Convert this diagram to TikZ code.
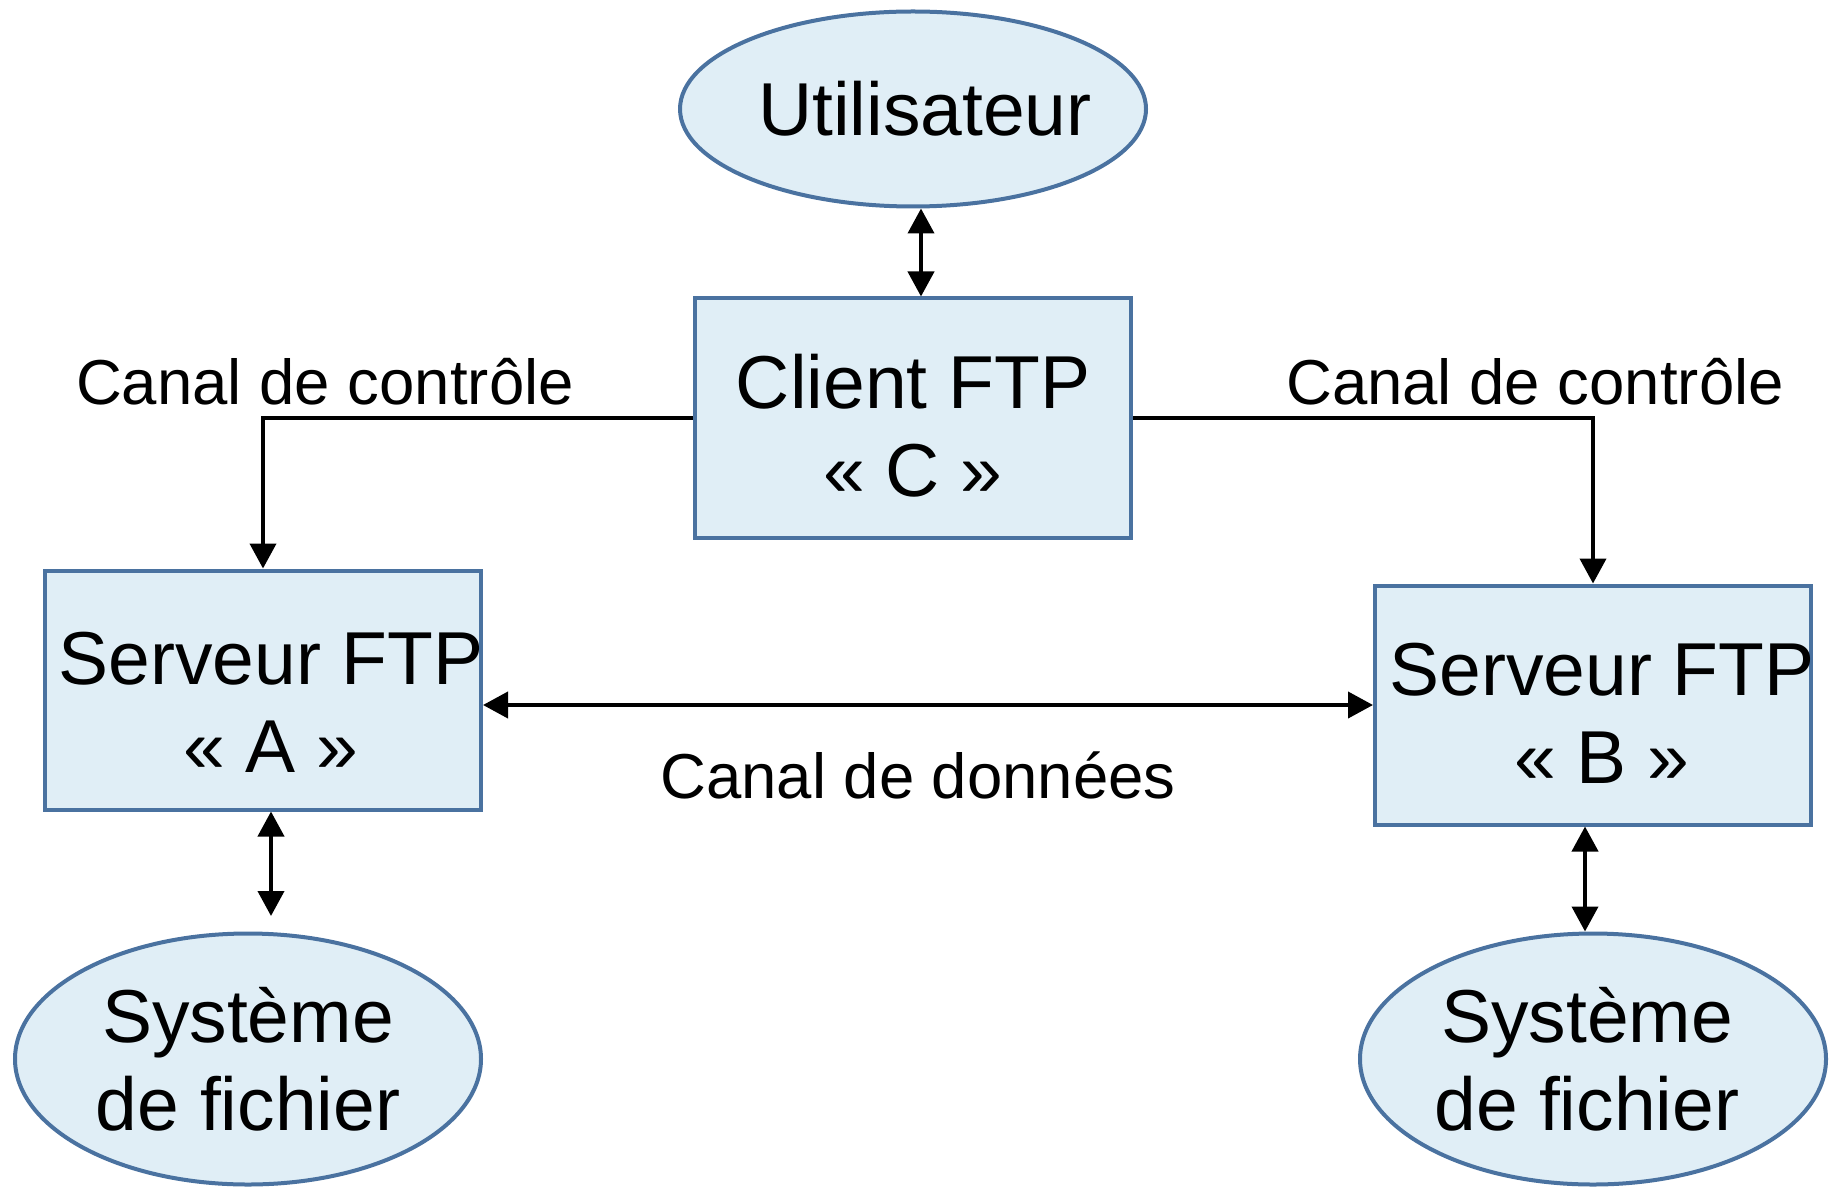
\documentclass[tikz,border=0pt]{standalone}
\usepackage{fontspec}
\setmainfont{Liberation Sans}
\usetikzlibrary{shapes.geometric,arrows.meta}

\begin{document}
\begin{tikzpicture}[x=0.5pt,y=-0.5pt,line width=2pt,
    bloc/.style={draw=boxline,fill=boxfill,inner sep=0pt},
    boite/.style={bloc,rectangle,minimum width=218pt,minimum height=119.5pt},
    bulle/.style={bloc,ellipse,minimum width=233pt},
    txt/.style={inner sep=0pt,align=center,font=\fontsize{37.5}{44}\selectfont},
    etiq/.style={inner sep=0pt,font=\fontsize{31.75}{38}\selectfont},
    fleche/.style={-{Triangle[width=13pt,length=12.5pt]}},
    dfleche/.style={{Triangle[width=13pt,length=12.5pt]}-{Triangle[width=13pt,length=12.5pt]}}]
    \definecolor{boxfill}{HTML}{E0EEF6}
    \definecolor{boxline}{HTML}{4A72A0}
    \useasboundingbox (0,0) rectangle (1834,1187);
    \node[bulle,minimum height=97.5pt,
      label={[txt,xshift=6pt]center:Utilisateur}] (util) at (913,109) {};
    \node[boite,label={[txt,yshift=-4pt]center:{Client FTP\\« C »}}] (client) at (913,418) {};
    \node[boite,label={[txt,xshift=4pt,yshift=-6pt]center:{Serveur FTP\\« A »}}] (srvA) at (263,690) {};
    \node[boite,label={[txt,xshift=4.5pt,yshift=-4pt]center:{Serveur FTP\\« B »}}] (srvB) at (1593,705) {};
    \foreach \n/\x/\d in {fsA/248/0pt,fsB/1593/-3pt}
      \node[bulle,minimum height=125.5pt,
        label={[txt,xshift=\d]center:{Système\\de fichier}}] (\n) at (\x,1059) {};
    \node[etiq] (ctlA) at (325,382) {Canal de contrôle};
    \node[etiq] (ctlB) at (1535,382) {Canal de contrôle};
    \node[etiq] (data) at (918,775) {Canal de données};
    \coordinate (fsAtop) at (271,916);
    \draw[dfleche] ([xshift=4pt]util.south) -- ([xshift=4pt]client.north);
    \draw[fleche] (client.west) -| (srvA.north);
    \draw[fleche] (client.east) -| (srvB.north);
    \draw[dfleche] (srvA.east |- srvB.west) -- (srvB.west);
    \draw[dfleche] (srvA.south -| fsAtop) -- (fsAtop);
    \draw[dfleche] ([xshift=-4pt]srvB.south) -- ([xshift=-4pt]fsB.north);
\end{tikzpicture}
\end{document}
